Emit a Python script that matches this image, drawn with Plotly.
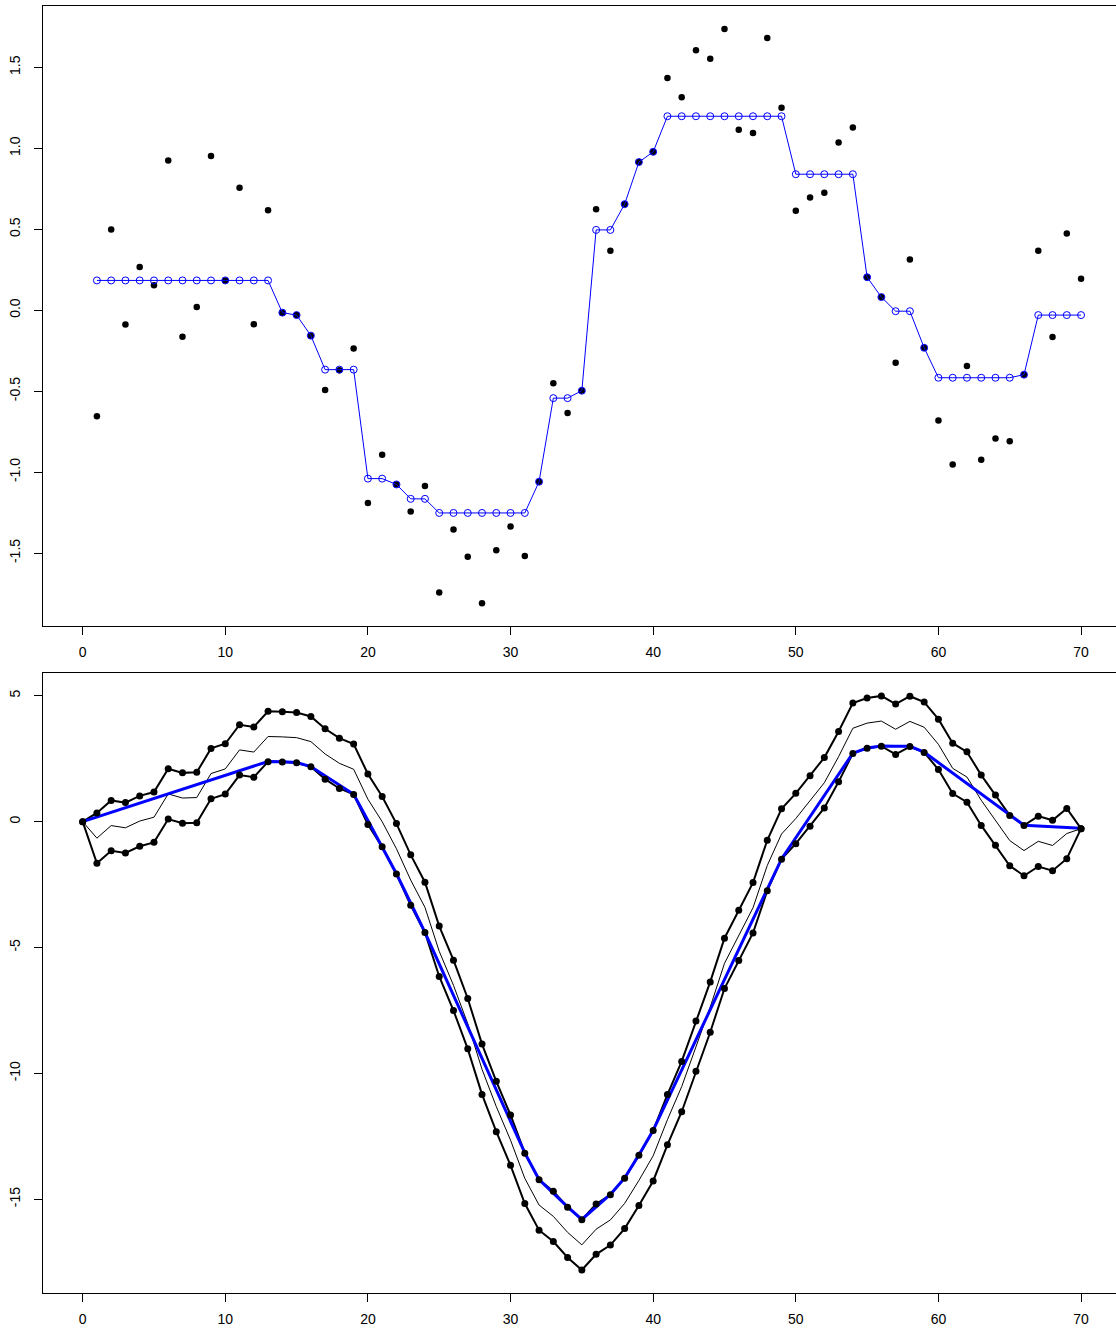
import numpy as np
import plotly.graph_objects as go

# ---- data ----
x_obs = list(range(1, 71))
y_obs = [-0.655, 0.499, -0.088, 0.267, 0.154, 0.925, -0.164, 0.020, 0.953, 0.184,
         0.756, -0.086, 0.618, -0.015, -0.030, -0.157, -0.492, -0.371, -0.237, -1.190,
         -0.892, -1.076, -1.243, -1.086, -1.744, -1.354, -1.523, -1.810, -1.482, -1.336,
         -1.518, -1.059, -0.451, -0.635, -0.497, 0.623, 0.368, 0.655, 0.915, 0.978,
         1.434, 1.316, 1.606, 1.553, 1.737, 1.114, 1.094, 1.681, 1.250, 0.615,
         0.696, 0.726, 1.036, 1.129, 0.204, 0.081, -0.325, 0.313, -0.232, -0.681,
         -0.953, -0.345, -0.923, -0.792, -0.809, -0.398, 0.368, -0.166, 0.474, 0.194]
y_fit = [0.184, 0.184, 0.184, 0.184, 0.184, 0.184, 0.184, 0.184, 0.184, 0.184,
         0.184, 0.184, 0.184, -0.015, -0.030, -0.157, -0.367, -0.367, -0.367, -1.040,
         -1.040, -1.076, -1.165, -1.165, -1.252, -1.252, -1.252, -1.252, -1.252, -1.252,
         -1.252, -1.059, -0.543, -0.543, -0.497, 0.496, 0.496, 0.655, 0.915, 0.978,
         1.198, 1.198, 1.198, 1.198, 1.198, 1.198, 1.198, 1.198, 1.198, 0.840,
         0.840, 0.840, 0.840, 0.840, 0.204, 0.081, -0.006, -0.006, -0.232, -0.417,
         -0.417, -0.417, -0.417, -0.417, -0.417, -0.398, -0.030, -0.030, -0.030, -0.030]
tube_halfwidth = 1.0
x_ticks = [0, 10, 20, 30, 40, 50, 60, 70]
top_yticks = [-1.5, -1.0, -0.5, 0.0, 0.5, 1.0, 1.5]
bottom_yticks = [-15, -10, -5, 0, 5]

# cumulative sums (taut-string view)
x_cum = list(range(0, 71))
cum = np.concatenate([[0.0], np.cumsum(y_obs)])
cum_fit = np.concatenate([[0.0], np.cumsum(y_fit)])
band = np.full(len(cum), tube_halfwidth)
band[0] = 0.0
band[-1] = 0.0
upper = cum + band
lower = cum - band

BLUE = "#0000FF"
fig = go.Figure()

# ---- top panel ----
fig.add_trace(go.Scatter(x=x_obs, y=y_obs, mode="markers",
                         marker=dict(color="black", size=6.5),
                         xaxis="x", yaxis="y", showlegend=False))
fig.add_trace(go.Scatter(x=x_obs, y=y_fit, mode="lines+markers",
                         line=dict(color=BLUE, width=1),
                         marker=dict(symbol="circle-open", color=BLUE, size=7,
                                     line=dict(width=1, color=BLUE)),
                         xaxis="x", yaxis="y", showlegend=False))

# ---- bottom panel ----
for arr in (upper, lower):
    fig.add_trace(go.Scatter(x=x_cum, y=arr, mode="lines",
                             line=dict(color="black", width=2),
                             xaxis="x2", yaxis="y2", showlegend=False))
fig.add_trace(go.Scatter(x=x_cum, y=cum, mode="lines",
                         line=dict(color="black", width=1),
                         xaxis="x2", yaxis="y2", showlegend=False))
fig.add_trace(go.Scatter(x=x_cum, y=cum_fit, mode="lines",
                         line=dict(color=BLUE, width=3),
                         xaxis="x2", yaxis="y2", showlegend=False))
for arr in (upper, lower):
    fig.add_trace(go.Scatter(x=x_cum, y=arr, mode="markers",
                             marker=dict(color="black", size=7),
                             xaxis="x2", yaxis="y2", showlegend=False))

# ranges (R-style 4% padding)
def padded(lo, hi):
    s = hi - lo
    return [lo - 0.04 * s, hi + 0.04 * s]

yr_top = padded(min(y_obs), max(y_obs))
yr_bot = padded(float(lower.min()), float(upper.max()))
xr = [-2.78, 72.45]

font = dict(family="Liberation Sans, Arial, Helvetica, sans-serif", size=14, color="black")
xcommon = dict(range=xr, tickvals=x_ticks, ticks="outside", ticklen=8, tickwidth=1,
               tickcolor="black", showline=True, linecolor="black", linewidth=1,
               mirror=True, showgrid=False, zeroline=False, tickfont=font,
               ticklabelstandoff=5)
ycommon = dict(ticks="outside", ticklen=8, tickwidth=1, tickcolor="black",
               showline=True, linecolor="black", linewidth=1, mirror=False,
               showgrid=False, zeroline=False, tickfont=font, tickangle=-90,
               ticklabelstandoff=8)

H = 1331
t, b = 5.5, 38
ph = H - t - b
top_dom = [(1293 - 626) / ph, 1.0]
bot_dom = [0.0, (1293 - 672.7) / ph]

fig.update_layout(
    width=1116, height=H,
    margin=dict(l=42.5, r=0, t=t, b=b),
    paper_bgcolor="white", plot_bgcolor="white",
    showlegend=False,
    xaxis=dict(**xcommon, domain=[0, 1], anchor="y"),
    yaxis=dict(**ycommon, domain=top_dom, range=yr_top, anchor="x",
               tickvals=top_yticks, ticktext=[f"{v:.1f}" for v in top_yticks]),
    xaxis2=dict(**xcommon, domain=[0, 1], anchor="y2"),
    yaxis2=dict(**ycommon, domain=bot_dom, range=yr_bot, anchor="x2",
                tickvals=bottom_yticks, ticktext=[str(v) for v in bottom_yticks]),
)

fig.write_html("out.html",
               config={"displayModeBar": False},
               post_script="document.body.style.margin='0px';document.body.style.overflow='hidden';")
